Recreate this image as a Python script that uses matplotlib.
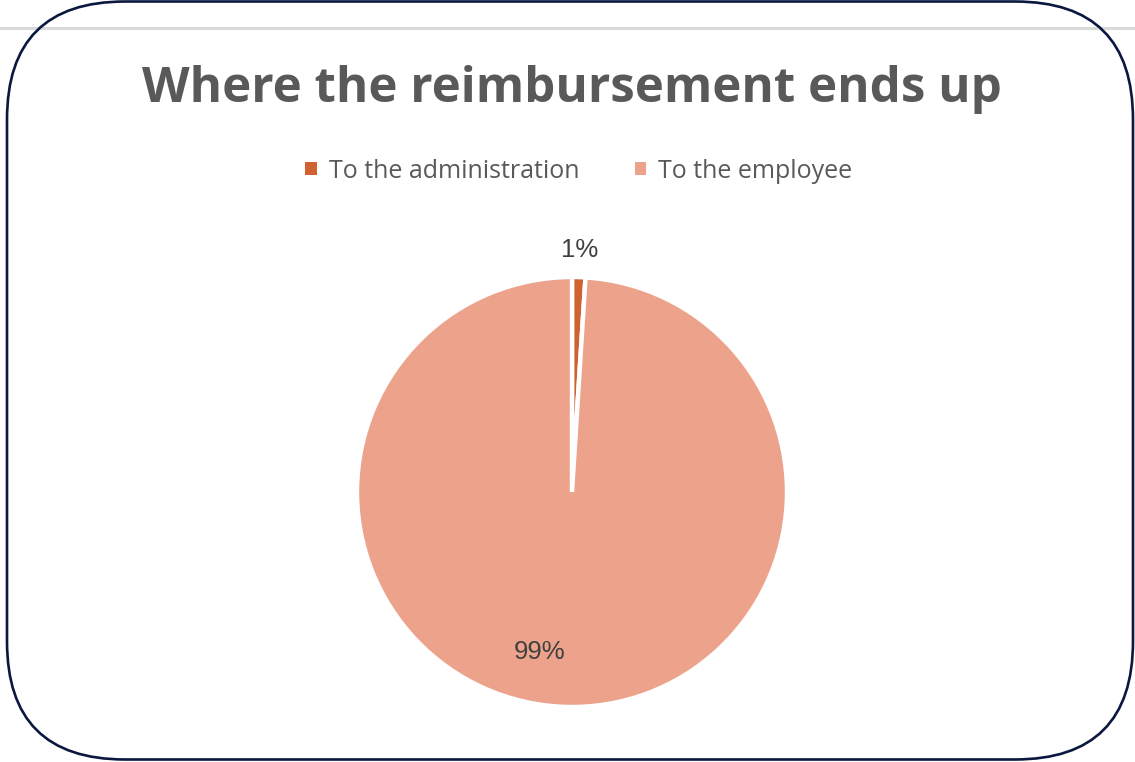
import numpy as np
import matplotlib
matplotlib.use("Agg")
import matplotlib.pyplot as plt
from matplotlib.patches import FancyBboxPatch
from matplotlib.lines import Line2D

# Data
categories = ["To the administration", "To the employee"]
shares = [1, 99]
colors = ["#CF6230", "#EDA28B"]
title = "Where the reimbursement ends up"

W, H = 1135, 762
fig = plt.figure(figsize=(W / 100, H / 100), dpi=100)
fig.patch.set_facecolor("white")

# Frame layer in pixel coordinates
frame = fig.add_axes([0, 0, 1, 1])
frame.set_xlim(0, W)
frame.set_ylim(H, 0)
frame.axis("off")
frame.add_line(Line2D([0, W], [28, 28], color="#DADADA", lw=2.2, zorder=1))
frame.add_patch(FancyBboxPatch((7, 1.5), 1126, 758, boxstyle="round,pad=0,rounding_size=118",
                               fill=False, ec="#0A1840", lw=1.9, zorder=2))
frame.text(572, 102, title, ha="center", va="baseline", fontsize=35.5, fontweight="bold",
           family="Open Sans", color="#595959")

# Pie
cx, cy, r = 572, 492, 215
ax = fig.add_axes([(cx - r) / W, 1 - (cy + r) / H, 2 * r / W, 2 * r / H])
wedges, _ = ax.pie(shares, colors=colors, startangle=90, counterclock=False,
                   wedgeprops=dict(edgecolor="white", linewidth=3.2))
ax.set_xlim(-1, 1)
ax.set_ylim(-1, 1)
ax.set_aspect("equal")

# Percentage labels
w0 = wedges[0]
mid = np.deg2rad((w0.theta1 + w0.theta2) / 2)
ax.text(1.125 * np.cos(mid), 1.125 * np.sin(mid), f"{shares[0]}%", ha="center", va="center",
        fontsize=18.5, color="#404040", family="Liberation Sans", clip_on=False)
ax.text(-0.15, -0.745, f"{shares[1]}%", ha="center", va="center",
        fontsize=18.5, color="#404040", family="Liberation Sans")

# Legend
leg = fig.legend(wedges, categories, loc="center", bbox_to_anchor=(579 / W, 1 - 171 / H),
                 ncol=2, frameon=False, handlelength=0.45, handleheight=0.45,
                 handletextpad=0.5, columnspacing=2.2, labelcolor="#595959",
                 prop=dict(family="Open Sans", size=18))
for h in leg.legend_handles:
    h.set_edgecolor("none")

fig.savefig("out.png", dpi=100, facecolor="white")
